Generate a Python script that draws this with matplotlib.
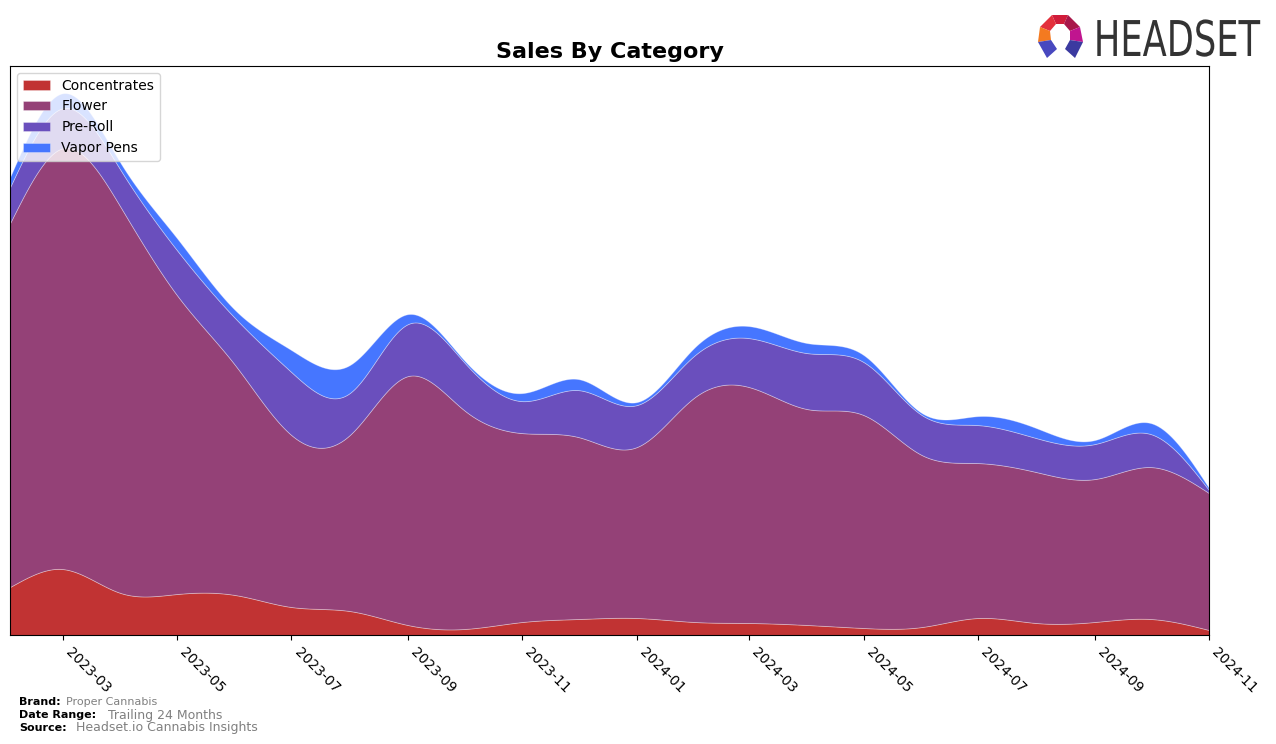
import matplotlib
matplotlib.use("Agg")
import matplotlib.pyplot as plt
import matplotlib.dates as mdates
from matplotlib.patches import Polygon
from matplotlib.patheffects import AbstractPathEffect
from matplotlib.transforms import Affine2D
import numpy as np
import pandas as pd

# Datos mensuales (unidades relativas)
meses = pd.date_range("2023-02-01", "2024-11-01", freq="MS")
concentrates = [48, 66, 42, 41, 40, 28, 24, 10, 6, 13, 16, 17, 13, 12, 10, 7, 8, 17, 12, 13, 16, 5]
flower = [364, 421, 386, 299, 230, 172, 176, 249, 219, 189, 182, 171, 225, 236, 216, 213, 172, 155, 151, 143, 152, 137]
pre_roll = [36, 40, 37, 45, 47, 63, 42, 52, 48, 32, 47, 42, 42, 49, 56, 53, 40, 38, 34, 35, 33, 3]
vapor_pens = [10, 15, 7, 12, 8, 22, 28, 10, 2, 8, 11, 3, 8, 12, 10, 7, 2, 9, 10, 4, 11, 2]

categorias = ["Concentrates", "Flower", "Pre-Roll", "Vapor Pens"]
colores = ["#c13333", "#944177", "#6a4fbd", "#4676ff"]


def spline_natural(x, y, xs):
    # spline cubica natural, solo para suavizar el dibujo
    x = np.asarray(x, float)
    y = np.asarray(y, float)
    n = len(x)
    h = np.diff(x)
    A = np.zeros((n, n))
    b = np.zeros(n)
    A[0, 0] = A[-1, -1] = 1
    for i in range(1, n - 1):
        A[i, i - 1] = h[i - 1]
        A[i, i] = 2 * (h[i - 1] + h[i])
        A[i, i + 1] = h[i]
        b[i] = 3 * ((y[i + 1] - y[i]) / h[i] - (y[i] - y[i - 1]) / h[i - 1])
    c = np.linalg.solve(A, b)
    idx = np.clip(np.searchsorted(x, xs) - 1, 0, n - 2)
    dx = xs - x[idx]
    bb = (y[idx + 1] - y[idx]) / h[idx] - h[idx] * (2 * c[idx] + c[idx + 1]) / 3
    d = (c[idx + 1] - c[idx]) / (3 * h[idx])
    return y[idx] + bb * dx + c[idx] * dx ** 2 + d * dx ** 3


class Estrecho(AbstractPathEffect):
    # comprime el texto en horizontal (el logo usa una letra estrecha)
    def __init__(self, sx, x0):
        super().__init__()
        self.sx = sx
        self.x0 = x0

    def draw_path(self, renderer, gc, tpath, affine, rgbFace=None):
        t = affine + Affine2D().translate(-self.x0, 0).scale(self.sx, 1).translate(self.x0, 0)
        renderer.draw_path(gc, tpath, t, rgbFace)


xnum = mdates.date2num(meses)
xs = np.linspace(xnum[0], xnum[-1], 800)
capas = [np.clip(spline_natural(xnum, s, xs), 0, None)
         for s in (concentrates, flower, pre_roll, vapor_pens)]

fig = plt.figure(figsize=(12.76, 7.44), dpi=100)
ax = fig.add_axes([10 / 1276, 1 - 635 / 744, 1199 / 1276, 569 / 744])

ax.stackplot(mdates.num2date(xs), *capas, labels=categorias, colors=colores,
             edgecolor=(1, 1, 1, 0.35), linewidth=0.6)

ax.set_xlim(meses[0], meses[-1])
ax.set_yticks([])
ax.xaxis.set_major_locator(mdates.MonthLocator(bymonth=[1, 3, 5, 7, 9, 11]))
ax.xaxis.set_major_formatter(mdates.DateFormatter("%Y-%m"))
plt.setp(ax.get_xticklabels(), rotation=-45, ha="left", fontsize=10)
ax.set_title("Sales By Category", fontsize=16, fontweight="bold")
ax.legend(loc="upper left", fontsize=10)

# pie de pagina
fig.text(19 / 1276, 1 - 702 / 744, "Brand:", fontsize=8, fontweight="bold", va="center")
fig.text(66 / 1276, 1 - 702 / 744, "Proper Cannabis", fontsize=8, color="gray", va="center")
fig.text(19 / 1276, 1 - 715 / 744, "Date Range:", fontsize=8, fontweight="bold", va="center")
fig.text(108 / 1276, 1 - 715 / 744, "Trailing 24 Months", fontsize=9, color="gray", va="center")
fig.text(19 / 1276, 1 - 728 / 744, "Source:", fontsize=8, fontweight="bold", va="center")
fig.text(76 / 1276, 1 - 728 / 744, "Headset.io Cannabis Insights", fontsize=9, color="gray", va="center")

# logo (anclado a la derecha y comprimido hacia ese borde)
fig.text(1260 / 1276, 1 - 56 / 744, "HEADSET", fontsize=35.5, color="#333333",
         va="baseline", ha="right", path_effects=[Estrecho(0.715, 1260)])
piezas = [
    ([(1052, 15), (1068, 15), (1064, 24), (1056, 24)], "#d01c3a"),
    ([(1052, 15), (1056, 24), (1050, 31), (1040, 27)], "#e3303c"),
    ([(1040, 27), (1050, 31), (1051, 40), (1038, 42)], "#f47a20"),
    ([(1038, 42), (1051, 40), (1057, 49), (1047, 58)], "#4848bf"),
    ([(1068, 15), (1080, 27), (1070, 31), (1064, 24)], "#a8174a"),
    ([(1080, 27), (1083, 42), (1070, 40), (1070, 31)], "#c0158f"),
    ([(1083, 42), (1070, 40), (1065, 49), (1075, 58)], "#3b3aa0"),
]
for pts, col in piezas:
    fig.patches.append(Polygon([(px / 1276, 1 - py / 744) for px, py in pts],
                               closed=True, facecolor=col, edgecolor="none",
                               transform=fig.transFigure))

fig.savefig("out.png", dpi=100)
